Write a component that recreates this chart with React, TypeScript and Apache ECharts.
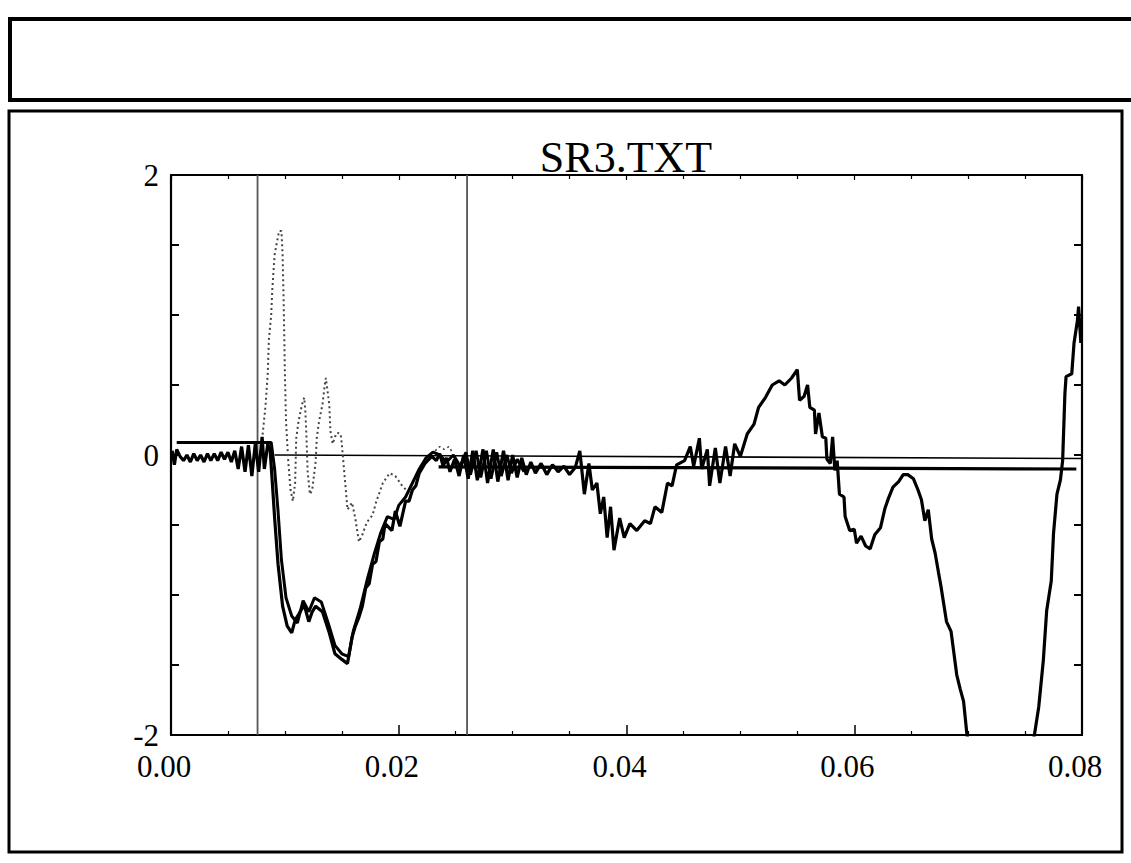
import React, { useEffect, useRef } from "react";
import * as echarts from "echarts";

// ---- data (time in seconds, value in chart units) ----
const tracePrimary: [number, number][] = [
  [0.0001, 0.03], [0.0003, -0.07], [0.0005, 0.04], [0.0008, -0.01], [0.0011, -0.04], [0.0014, 0.0],
  [0.0017, -0.05], [0.002, 0.01], [0.0023, -0.04], [0.0026, 0.0], [0.0029, -0.05], [0.0032, 0.01],
  [0.0035, -0.04], [0.0038, 0.01], [0.0041, -0.04], [0.0044, 0.02], [0.0047, -0.03], [0.005, 0.02],
  [0.0053, -0.05], [0.0056, 0.03], [0.0059, -0.1], [0.0062, 0.06], [0.0065, -0.12], [0.0068, 0.07],
  [0.0071, -0.15], [0.0074, 0.08], [0.0077, -0.12], [0.008, 0.13], [0.0082, -0.1], [0.0085, 0.08],
  [0.0087, 0.04], [0.0089, -0.2], [0.0091, -0.45], [0.0094, -0.78], [0.0098, -1.08], [0.0102, -1.22],
  [0.0106, -1.27], [0.0109, -1.18], [0.0112, -1.14], [0.0117, -1.07], [0.0121, -1.19], [0.0124, -1.12],
  [0.0127, -1.08], [0.0133, -1.12], [0.0139, -1.27], [0.0144, -1.42], [0.015, -1.46], [0.0155, -1.49],
  [0.0159, -1.3], [0.0162, -1.22], [0.0165, -1.16], [0.0168, -1.08], [0.0171, -0.95], [0.0174, -0.92],
  [0.0177, -0.78], [0.018, -0.76], [0.0183, -0.62], [0.0186, -0.6], [0.0188, -0.49], [0.0194, -0.54],
  [0.0197, -0.4], [0.0201, -0.51], [0.0206, -0.33], [0.0209, -0.33], [0.0212, -0.25], [0.0215, -0.22],
  [0.0218, -0.13], [0.0223, -0.06], [0.0229, -0.01], [0.0233, -0.04], [0.0236, 0.01], [0.0239, -0.08],
  [0.0242, -0.02], [0.0245, -0.12], [0.0249, -0.03], [0.0253, -0.15], [0.0257, 0.0], [0.0261, -0.17],
  [0.0265, 0.03], [0.0269, -0.18], [0.0274, 0.04], [0.0278, -0.2], [0.0283, 0.04], [0.0287, -0.19],
  [0.0292, 0.03], [0.0296, -0.18], [0.03, 0.0], [0.0304, -0.16], [0.0308, -0.02], [0.0312, -0.14],
  [0.0316, -0.05], [0.032, -0.13], [0.0325, -0.06], [0.033, -0.14], [0.0335, -0.07], [0.034, -0.12],
  [0.0345, -0.08], [0.035, -0.14], [0.0355, -0.09], [0.0359, 0.03], [0.0363, -0.28], [0.0367, -0.06],
  [0.037, -0.25], [0.0374, -0.2], [0.0377, -0.42], [0.038, -0.3], [0.0383, -0.59], [0.0386, -0.37],
  [0.0389, -0.68], [0.0394, -0.45], [0.0398, -0.59], [0.0403, -0.49], [0.0409, -0.54], [0.0416, -0.47],
  [0.0421, -0.49], [0.0425, -0.37], [0.0431, -0.41], [0.0436, -0.2], [0.044, -0.22], [0.0444, -0.07],
  [0.0451, -0.04], [0.0456, 0.06], [0.0459, -0.08], [0.0464, 0.12], [0.0466, -0.1], [0.0471, 0.04],
  [0.0473, -0.22], [0.0478, 0.05], [0.0482, -0.2], [0.0487, 0.06], [0.0491, -0.15], [0.0495, 0.08],
  [0.05, -0.01], [0.0506, 0.15], [0.0512, 0.22], [0.0516, 0.34], [0.0522, 0.41], [0.0528, 0.5],
  [0.0534, 0.53], [0.0539, 0.5], [0.0545, 0.55], [0.055, 0.61], [0.0552, 0.39], [0.0556, 0.42],
  [0.0559, 0.5], [0.0561, 0.34], [0.0565, 0.32], [0.0566, 0.15], [0.0569, 0.3], [0.0572, 0.13],
  [0.0575, 0.12], [0.0576, -0.03], [0.0579, -0.06], [0.0581, 0.13], [0.0583, -0.11], [0.0585, -0.04],
  [0.0587, -0.28], [0.0591, -0.3], [0.0592, -0.44], [0.0596, -0.54], [0.06, -0.53], [0.0602, -0.63],
  [0.0606, -0.58], [0.061, -0.65], [0.0614, -0.67], [0.0618, -0.57], [0.0623, -0.52], [0.0627, -0.38],
  [0.063, -0.31], [0.0634, -0.23], [0.0639, -0.19], [0.0643, -0.14], [0.0647, -0.14], [0.0652, -0.17],
  [0.0656, -0.25], [0.0659, -0.32], [0.0662, -0.47], [0.0665, -0.39], [0.0668, -0.6], [0.0671, -0.7],
  [0.0674, -0.84], [0.0676, -0.93], [0.0681, -1.19], [0.0685, -1.26], [0.069, -1.57], [0.0693, -1.67],
  [0.0696, -1.76], [0.0699, -2.0], [0.071, -2.4], [0.073, -2.6], [0.0748, -2.4], [0.0758, -2.01],
  [0.0762, -1.8], [0.0766, -1.47], [0.0769, -1.11], [0.0773, -0.9], [0.0775, -0.56], [0.0778, -0.28],
  [0.0781, -0.18], [0.0783, -0.04], [0.0785, 0.44], [0.0786, 0.56], [0.0791, 0.58], [0.0793, 0.8],
  [0.0796, 0.96], [0.0797, 1.06], [0.0799, 0.8],
];

const traceSecondary: [number, number][] = [
  [0.0005, 0.09], [0.0088, 0.09], [0.0091, -0.1], [0.0094, -0.4], [0.0097, -0.75], [0.0101, -1.02],
  [0.0106, -1.15], [0.0111, -1.2], [0.0116, -1.04], [0.0121, -1.12], [0.0126, -1.02], [0.0132, -1.05],
  [0.0138, -1.2], [0.0144, -1.36], [0.015, -1.42], [0.0156, -1.44], [0.016, -1.26], [0.0166, -1.1],
  [0.0172, -0.9], [0.0178, -0.72], [0.0184, -0.56], [0.019, -0.44], [0.0196, -0.46], [0.02, -0.36],
  [0.0206, -0.3], [0.0212, -0.2], [0.0218, -0.1], [0.0224, -0.02], [0.023, 0.02], [0.0236, 0.0],
  [0.0242, -0.05], [0.0248, 0.0], [0.0254, -0.08], [0.0259, 0.02], [0.0263, -0.14], [0.0268, 0.03],
  [0.0272, -0.16], [0.0277, 0.03], [0.0281, -0.17], [0.0286, 0.02], [0.029, -0.15], [0.0295, 0.0],
  [0.0299, -0.13], [0.0304, -0.03], [0.031, -0.12],
];

const traceDotted: [number, number][] = [
  [0.008, 0.11], [0.0083, 0.35], [0.0085, 0.59], [0.0086, 0.83], [0.0088, 1.0], [0.0089, 1.19],
  [0.0091, 1.43], [0.0093, 1.52], [0.0095, 1.6], [0.0097, 1.6], [0.0098, 1.43], [0.0099, 1.07],
  [0.01, 0.59], [0.0101, 0.24], [0.0103, -0.05], [0.0105, -0.25], [0.0107, -0.33], [0.0109, -0.2],
  [0.011, 0.12], [0.0112, 0.24], [0.0115, 0.36], [0.0117, 0.41], [0.0118, 0.31], [0.0119, 0.12],
  [0.012, -0.12], [0.0122, -0.28], [0.0124, -0.25], [0.0127, -0.05], [0.0128, 0.12], [0.013, 0.24],
  [0.0133, 0.36], [0.0135, 0.5], [0.0136, 0.55], [0.0139, 0.36], [0.014, 0.17], [0.0142, 0.08],
  [0.0144, 0.13], [0.0146, 0.16], [0.0149, 0.15], [0.015, 0.08], [0.0152, -0.11], [0.0153, -0.2],
  [0.0155, -0.39], [0.0159, -0.34], [0.0162, -0.46], [0.0165, -0.62], [0.0168, -0.57], [0.0172, -0.48],
  [0.0177, -0.43], [0.018, -0.34], [0.0186, -0.2], [0.0192, -0.13], [0.0197, -0.15], [0.0203, -0.22],
  [0.0209, -0.27],
];

const traceDottedTail: [number, number][] = [
  [0.0232, 0.03], [0.0236, 0.06], [0.024, 0.04], [0.0244, 0.06], [0.0247, 0.02],
];

const zeroLine: [number, number][] = [[0.0091, 0.0], [0.08, -0.025]];
const offsetLine: [number, number][] = [[0.0235, -0.085], [0.0795, -0.1]];
const cursorTimes: number[] = [0.0076, 0.026];

const xMin = 0;
const xMax = 0.08;
const xLabelStep = 0.02;
const yMin = -2;
const yMax = 2;
const yLabelStep = 2;
const chartTitle = "SR3.TXT";

const SERIF = '"Liberation Serif", "Times New Roman", serif';

export default function App() {
  const ref = useRef<HTMLDivElement>(null);

  useEffect(() => {
    if (!ref.current) return;
    const chart = echarts.init(ref.current, undefined, { renderer: "svg" });

    const grid = { left: 171, top: 175, width: 911, height: 560 };

    const cursorSeries = cursorTimes.map((t) => ({
      type: "line",
      data: [[t, yMin], [t, yMax]],
      symbol: "none",
      silent: true,
      lineStyle: { color: "#555", width: 1.8 },
      z: 1,
    }));

    const axisLineStyle = { onZero: false, lineStyle: { color: "#000", width: 2.2 } };

    const option: any = {
      animation: false,
      backgroundColor: "#fff",
      grid,
      graphic: [
        {
          type: "rect",
          shape: { x: 10, y: 19, width: 1140, height: 81 },
          style: { fill: "none", stroke: "#000", lineWidth: 4 },
          silent: true,
        },
        {
          type: "rect",
          shape: { x: 9, y: 111, width: 1113, height: 741 },
          style: { fill: "none", stroke: "#000", lineWidth: 3 },
          silent: true,
        },
        {
          type: "text",
          x: 626,
          y: 179,
          style: {
            text: chartTitle,
            font: `44px ${SERIF}`,
            fill: "#000",
            textAlign: "center",
            textVerticalAlign: "bottom",
          },
          silent: true,
        },
      ],
      xAxis: [
        {
          type: "value",
          min: xMin,
          max: xMax,
          interval: xLabelStep,
          position: "bottom",
          axisLine: axisLineStyle,
          axisTick: { inside: true, length: 10, lineStyle: { color: "#000", width: 1.5 } },
          minorTick: { show: true, splitNumber: 4, length: 4, lineStyle: { color: "#000", width: 1.2 } },
          splitLine: { show: false },
          axisLabel: {
            margin: 16,
            color: "#000",
            fontFamily: SERIF,
            fontSize: 31,
            padding: [0, 14, 0, 0],
            formatter: (v: number) => v.toFixed(2),
          },
        },
        {
          type: "value",
          min: xMin,
          max: xMax,
          interval: xLabelStep,
          position: "top",
          axisLine: axisLineStyle,
          axisTick: { inside: true, length: 5, lineStyle: { color: "#000", width: 1.2 } },
          minorTick: { show: true, splitNumber: 4, length: 4, lineStyle: { color: "#000", width: 1.2 } },
          splitLine: { show: false },
          axisLabel: { show: false },
        },
      ],
      yAxis: [
        {
          type: "value",
          min: yMin,
          max: yMax,
          interval: yLabelStep,
          position: "left",
          axisLine: axisLineStyle,
          axisTick: { inside: true, length: 8, lineStyle: { color: "#000", width: 2 } },
          minorTick: { show: true, splitNumber: 4, length: 8, lineStyle: { color: "#000", width: 2 } },
          splitLine: { show: false },
          axisLabel: {
            margin: 12,
            color: "#000",
            fontFamily: SERIF,
            fontSize: 31,
            formatter: (v: number) => String(v),
          },
        },
        {
          type: "value",
          min: yMin,
          max: yMax,
          interval: yLabelStep,
          position: "right",
          axisLine: axisLineStyle,
          axisTick: { inside: true, length: 8, lineStyle: { color: "#000", width: 2 } },
          minorTick: { show: true, splitNumber: 4, length: 8, lineStyle: { color: "#000", width: 2 } },
          splitLine: { show: false },
          axisLabel: { show: false },
        },
      ],
      series: [
        ...cursorSeries,
        {
          type: "line",
          data: zeroLine,
          symbol: "none",
          silent: true,
          lineStyle: { color: "#000", width: 1.6 },
          z: 2,
        },
        {
          type: "line",
          data: offsetLine,
          symbol: "none",
          silent: true,
          lineStyle: { color: "#000", width: 3.2 },
          z: 2,
        },
        {
          type: "line",
          data: traceDotted,
          symbol: "none",
          silent: true,
          lineStyle: { color: "#444", width: 2, type: [2, 3] },
          z: 3,
        },
        {
          type: "line",
          data: traceDottedTail,
          symbol: "none",
          silent: true,
          lineStyle: { color: "#444", width: 1.6, type: [2, 3] },
          z: 3,
        },
        {
          type: "line",
          data: traceSecondary,
          symbol: "none",
          silent: true,
          lineStyle: { color: "#000", width: 3 },
          z: 4,
        },
        {
          type: "line",
          data: tracePrimary,
          symbol: "none",
          silent: true,
          lineStyle: { color: "#000", width: 3.2 },
          z: 5,
        },
      ],
    };

    chart.setOption(option);
    return () => chart.dispose();
  }, []);

  return (
    <div
      ref={ref}
      style={{ position: "absolute", left: 0, top: 0, width: 1131, height: 863, background: "#fff" }}
    />
  );
}
